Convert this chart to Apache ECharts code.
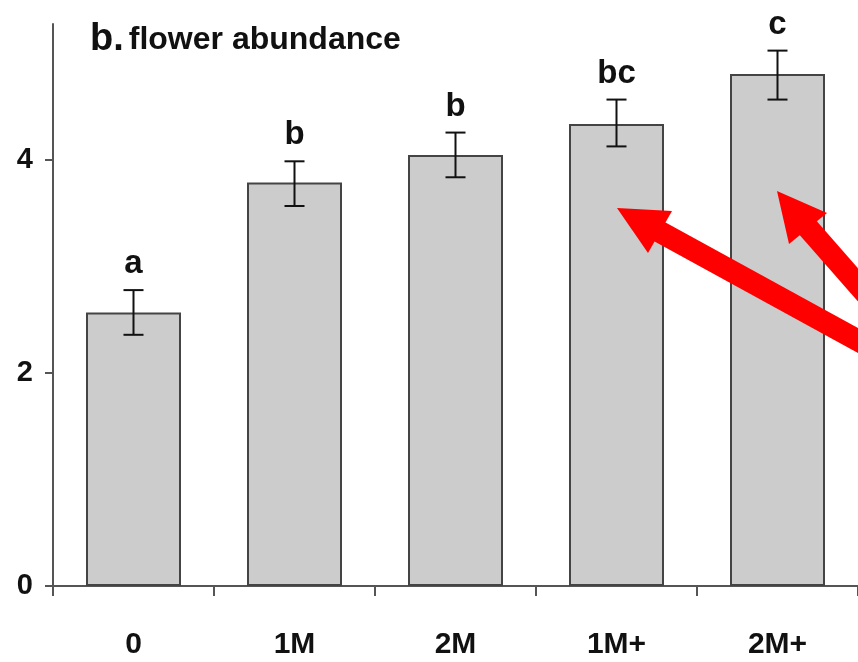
<!DOCTYPE html>
<html>
<head>
<meta charset="utf-8">
<style>
  html, body { margin: 0; padding: 0; background: #fff; }
  #chart { width: 858px; height: 662px; }
</style>
<script src="https://cdn.jsdelivr.net/npm/echarts@6/dist/echarts.min.js"></script>
</head>
<body>
<div id="chart"></div>
<script>
// ---- data ----
const categories = ['0', '1M', '2M', '1M+', '2M+'];
const means      = [2.57, 3.79, 4.05, 4.34, 4.81];
const errLow     = [2.36, 3.57, 3.84, 4.13, 4.57];
const errHigh    = [2.78, 3.99, 4.26, 4.57, 5.03];
const letters    = ['a', 'b', 'b', 'bc', 'c'];
const yTicks     = [0, 2, 4];

// ---- annotation arrows (red overlay, pixel space) ----
const arrows = [
  { tip: [617, 208], barbA: [672, 211], barbB: [648, 253], tail: [890, 358] },
  { tip: [777, 191], barbA: [827, 213], barbB: [789, 244], tail: [880, 310] }
];

const FONT = '"Liberation Sans", Arial, sans-serif';
const AXIS = '#555555';

const chart = echarts.init(document.getElementById('chart'), null, { renderer: 'canvas' });

const errData = categories.map((c, i) => [i, errLow[i], errHigh[i], letters[i]]);

const graphics = [];
arrows.forEach(a => {
  const mid = [(a.barbA[0] + a.barbB[0]) / 2, (a.barbA[1] + a.barbB[1]) / 2];
  graphics.push({
    type: 'line', z: 100,
    shape: { x1: mid[0] - (mid[0] - a.tip[0]) * 0.3, y1: mid[1] - (mid[1] - a.tip[1]) * 0.3, x2: a.tail[0], y2: a.tail[1] },
    style: { stroke: '#ff0000', lineWidth: 22 }
  });
  graphics.push({
    type: 'polygon', z: 101,
    shape: { points: [a.tip, a.barbA, mid, a.barbB] },
    style: { fill: '#ff0000' }
  });
});

const option = {
  animation: false,
  backgroundColor: '#ffffff',
  title: {
    text: '{b|b.} {t|flower abundance}',
    left: 85,
    top: 16,
    textStyle: {
      rich: {
        b: { fontFamily: FONT, fontWeight: 'bold', fontSize: 38, color: '#111' },
        t: { fontFamily: FONT, fontWeight: 'bold', fontSize: 32, color: '#111' }
      }
    }
  },
  grid: { left: 53, width: 810, top: 24, bottom: 76, containLabel: false },
  xAxis: {
    type: 'category',
    data: categories,
    boundaryGap: true,
    axisLine: { show: true, lineStyle: { color: AXIS, width: 2 } },
    axisTick: { show: true, length: 10, lineStyle: { color: AXIS, width: 2 } },
    axisLabel: { fontFamily: FONT, fontWeight: 'bold', fontSize: 30, color: '#111', margin: 44 },
    splitLine: { show: false }
  },
  yAxis: {
    type: 'value',
    min: 0,
    max: 5.28,
    interval: 2,
    axisLine: { show: true, lineStyle: { color: AXIS, width: 2 } },
    axisTick: { show: true, length: 8, customValues: yTicks, lineStyle: { color: AXIS, width: 2 } },
    axisLabel: { fontFamily: FONT, fontWeight: 'bold', fontSize: 29, color: '#111', margin: 20, customValues: yTicks },
    splitLine: { show: false }
  },
  series: [
    {
      type: 'bar',
      data: means,
      barWidth: 95,
      itemStyle: { color: '#cccccc', borderColor: '#444444', borderWidth: 2 },
      z: 2
    },
    {
      type: 'custom',
      data: errData,
      z: 5,
      renderItem: function (params, api) {
        const x = api.value(0);
        const lo = api.coord([x, api.value(1)]);
        const hi = api.coord([x, api.value(2)]);
        const cap = 10;
        const style = { stroke: '#111', lineWidth: 2 };
        return {
          type: 'group',
          children: [
            { type: 'line', shape: { x1: hi[0], y1: hi[1], x2: lo[0], y2: lo[1] }, style: style },
            { type: 'line', shape: { x1: hi[0] - cap, y1: hi[1], x2: hi[0] + cap, y2: hi[1] }, style: style },
            { type: 'line', shape: { x1: lo[0] - cap, y1: lo[1], x2: lo[0] + cap, y2: lo[1] }, style: style },
            {
              type: 'text',
              style: {
                text: letters[params.dataIndex],
                x: hi[0], y: hi[1] - 26,
                align: 'center', verticalAlign: 'middle',
                fontFamily: FONT, fontWeight: 'bold', fontSize: 33, fill: '#111'
              }
            }
          ]
        };
      }
    }
  ],
  graphic: graphics
};

chart.setOption(option);
</script>
</body>
</html>
